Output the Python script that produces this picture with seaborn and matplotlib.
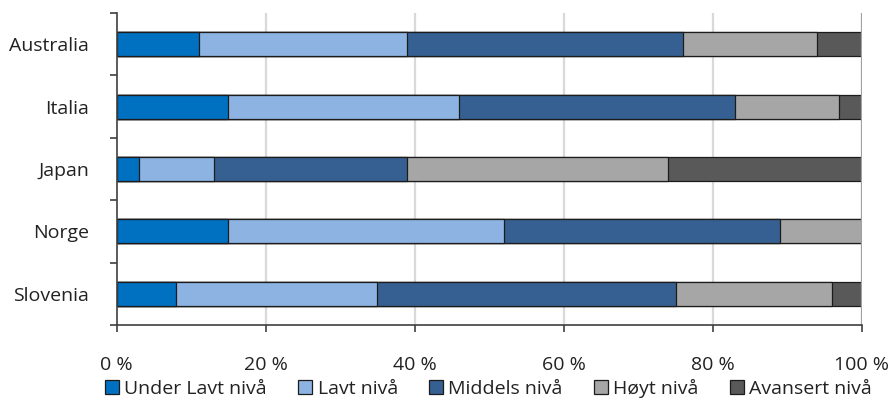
import matplotlib
matplotlib.use("Agg")
import matplotlib.pyplot as plt
from matplotlib.patches import Patch
from matplotlib.ticker import FixedLocator
import numpy as np
import pandas as pd
import seaborn as sns

# Share of students at each proficiency level (%)
countries = ["Australia", "Italia", "Japan", "Norge", "Slovenia"]
levels = ["Under Lavt nivå", "Lavt nivå", "Middels nivå", "Høyt nivå", "Avansert nivå"]
under_lavt = [11, 15, 3, 15, 8]
lavt = [28, 31, 10, 37, 27]
middels = [37, 37, 26, 37, 40]
hoyt = [18, 14, 35, 11, 21]
avansert = [6, 3, 26, 0, 4]
xtick_values = [0, 20, 40, 60, 80, 100]
xtick_labels = ["0 %", "20 %", "40 %", "60 %", "80 %", "100 %"]

colors = ["#0070C0", "#8DB3E2", "#366092", "#A6A6A6", "#595959"]

sns.set_theme(style="white")
plt.rcParams["font.family"] = ["Open Sans", "DejaVu Sans"]
FS = 14.0

df = pd.DataFrame({"land": countries})
series = [under_lavt, lavt, middels, hoyt, avansert]
cum = np.cumsum(np.array(series), axis=0)
for i, name in enumerate(levels):
    df[name] = cum[i]

fig = plt.figure(figsize=(8.94, 4.03), dpi=100)
ax = fig.add_axes([0.1305, 0.1935, 0.8335, 0.7745])

# Stack by overdrawing cumulative totals, widest first
for i in reversed(range(len(levels))):
    sns.barplot(data=df, y="land", x=levels[i], color=colors[i], width=0.385,
                edgecolor="#1c1c1c", linewidth=0.9, saturation=1, ax=ax, zorder=3)

ax.set_xlim(0, 100)
ax.set_ylim(4.5, -0.5)
ax.set_xlabel("")
ax.set_ylabel("")

ax.set_xticks(xtick_values)
ax.set_xticklabels(xtick_labels, fontsize=FS, color="#222222")
for x in xtick_values[1:-1]:
    ax.axvline(x, color="#D9D9D9", lw=1.6, zorder=0)
ax.axvline(100, color="#A0A0A0", lw=1.6, zorder=4)

ax.tick_params(axis="x", which="major", length=5, width=1.2, color="#404040",
               direction="out", pad=17, bottom=True)
ax.tick_params(axis="y", which="major", length=0, pad=20, labelsize=FS,
               labelcolor="#222222", left=False)
ax.yaxis.set_minor_locator(FixedLocator(np.arange(-0.5, 5.0, 1.0)))
ax.tick_params(axis="y", which="minor", length=5, width=1.2, color="#404040",
               direction="out", left=True)

for side in ["top", "right"]:
    ax.spines[side].set_visible(False)
for side in ["left", "bottom"]:
    ax.spines[side].set_color("#404040")
    ax.spines[side].set_linewidth(1.2)
    ax.spines[side].set_zorder(5)

handles = [Patch(facecolor=c, edgecolor="#1c1c1c", linewidth=0.9) for c in colors]
fig.legend(handles, levels, loc="center", bbox_to_anchor=(0.5465, 0.036), ncol=5,
           frameon=False, fontsize=FS, handlelength=0.7, handleheight=0.7,
           handletextpad=0.3, columnspacing=1.6, labelcolor="#222222",
           borderpad=0.2)

fig.savefig("out.png", dpi=100)
